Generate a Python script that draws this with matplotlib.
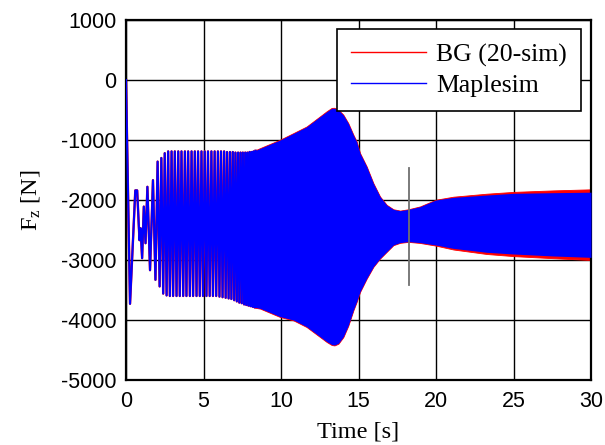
import matplotlib
matplotlib.use("Agg")
import matplotlib.pyplot as plt
from matplotlib.lines import Line2D

# ---------------- data ----------------
# Oscillation extrema visible as individual strokes (0 .. 8.4 s), both series overlap
t_early = [0.00, 0.26, 0.60, 0.72, 0.87, 0.94, 1.04, 1.15, 1.26, 1.38,
           1.55, 1.74, 1.90, 2.04, 2.17, 2.28, 2.40, 2.50, 2.62, 2.72,
           2.83, 2.94, 3.04, 3.15, 3.26, 3.37, 3.47, 3.58, 3.69, 3.80,
           3.90, 4.01, 4.12, 4.23, 4.33, 4.44, 4.55, 4.65, 4.76, 4.87,
           4.97, 5.08, 5.19, 5.29, 5.40, 5.51, 5.61, 5.72, 5.82, 5.93,
           6.03, 6.13, 6.23, 6.33, 6.43, 6.52, 6.62, 6.71, 6.80, 6.89,
           6.98, 7.06, 7.15, 7.23, 7.31, 7.39, 7.47, 7.54, 7.62, 7.69,
           7.76, 7.83, 7.90, 7.97, 8.04, 8.10, 8.17, 8.23, 8.30, 8.36]
f_early = [0, -3730, -1840, -1840, -2670, -2470, -2970, -2110, -2720, -1780,
           -3170, -1670, -3330, -1360, -3440, -1300, -3560, -1220, -3590, -1190,
           -3600, -1190, -3600, -1190, -3600, -1190, -3600, -1190, -3600, -1190,
           -3600, -1190, -3600, -1190, -3600, -1190, -3600, -1190, -3600, -1190,
           -3600, -1190, -3600, -1190, -3600, -1190, -3600, -1190, -3600, -1190,
           -3610, -1190, -3620, -1190, -3630, -1200, -3640, -1200, -3650, -1200,
           -3670, -1210, -3690, -1210, -3710, -1210, -3720, -1210, -3740, -1210,
           -3750, -1210, -3760, -1200, -3770, -1200, -3780, -1190, -3790, -1180]

# Envelope of the dense oscillation (8.3 .. 30 s)
t_env = [8.30, 8.65, 9.94, 10.80, 11.65, 12.52, 12.95, 13.27, 13.45, 13.70,
         14.02, 14.34, 14.67, 14.88, 15.10, 15.53, 15.96, 16.39, 16.82, 17.25,
         17.68, 18.22, 18.97, 19.98, 21.12, 23.27, 24.99, 27.56, 30.00]
maple_upper = [-1180, -1140, -1000, -890, -780, -610, -528, -472, -470, -500,
               -583, -722, -917, -1028, -1222, -1444, -1722, -1944, -2083, -2156,
               -2178, -2156, -2111, -2000, -1956, -1917, -1889, -1878, -1870]
maple_lower = [-3790, -3806, -3944, -4000, -4111, -4278, -4361, -4410, -4417, -4390,
               -4280, -4090, -3833, -3694, -3528, -3306, -3111, -2972, -2861, -2750,
               -2711, -2694, -2711, -2750, -2806, -2872, -2900, -2933, -2956]
bg_upper = [-1175, -1135, -995, -885, -775, -605, -520, -465, -463, -494,
            -578, -718, -913, -1024, -1218, -1442, -1720, -1942, -2081, -2154,
            -2176, -2154, -2107, -1996, -1945, -1895, -1865, -1840, -1822]
bg_lower = [-3795, -3810, -3950, -4006, -4117, -4284, -4367, -4417, -4424, -4396,
            -4286, -4096, -3838, -3698, -3532, -3310, -3114, -2975, -2864, -2753,
            -2714, -2698, -2716, -2760, -2825, -2900, -2935, -2970, -3000]

marker_t = [18.26, 18.26]
marker_f = [-1467, -3417]

x_ticks = [0, 5, 10, 15, 20, 25, 30]
y_ticks = [-5000, -4000, -3000, -2000, -1000, 0, 1000]
series_names = ["BG (20-sim)", "Maplesim"]
series_colors = ["#ff0000", "#0000ff"]

# ---------------- figure ----------------
fig = plt.figure(figsize=(6.05, 4.45), dpi=100)
ax = fig.add_axes([126/605, 1 - 380/445, 465/605, 360/445])

# BG (20-sim)
ax.plot(t_early, f_early, color=series_colors[0], lw=1.7, zorder=2)
ax.fill_between(t_env, bg_upper, bg_lower, color=series_colors[0], lw=0.6,
                edgecolor=series_colors[0], zorder=2)
# Maplesim
ax.plot(t_early, f_early, color=series_colors[1], lw=1.5, zorder=3)
ax.fill_between(t_env, maple_upper, maple_lower, color=series_colors[1], lw=0,
                zorder=3)

ax.plot(marker_t, marker_f, color="#707070", lw=1.3, zorder=4)

ax.set_xlim(0, 30)
ax.set_ylim(-5000, 1000)
ax.set_xticks(x_ticks)
ax.set_yticks(y_ticks)
ax.set_xticklabels([str(v) for v in x_ticks])
ax.set_yticklabels([str(v) for v in y_ticks])

ax.grid(True, color="black", lw=1.0, ls="-", zorder=1)
ax.set_axisbelow(True)
for s in ax.spines.values():
    s.set_linewidth(1.6)
ax.tick_params(direction="in", length=0, labelsize=15.5, width=1.2)
ax.tick_params(axis="x", pad=8)
ax.tick_params(axis="y", pad=7)
for lab in ax.get_xticklabels() + ax.get_yticklabels():
    lab.set_fontfamily("Liberation Sans")

ax.set_xlabel("Time [s]", family="Liberation Serif", fontsize=17.5)
ax.xaxis.set_label_coords(0.5, -0.115)
ax.set_ylabel(r"$\mathregular{F_z}$ [N]", family="Liberation Serif", fontsize=17.5)
ax.yaxis.set_label_coords(-0.18, 0.5)

handles = [Line2D([0], [0], color=series_colors[0], lw=1.0),
           Line2D([0], [0], color=series_colors[1], lw=1.0)]
leg = ax.legend(handles, series_names, loc="upper left",
                bbox_to_anchor=((337 - 126) / 465, 0.975), borderaxespad=0,
                prop={"family": "Liberation Serif", "size": 18.5},
                frameon=True, fancybox=False, edgecolor="black",
                framealpha=1, handlelength=2.9, handletextpad=0.4,
                labelspacing=0.3, borderpad=0.55)
leg.get_frame().set_linewidth(1.2)
leg.set_zorder(5)

fig.savefig("out.png", dpi=100)
